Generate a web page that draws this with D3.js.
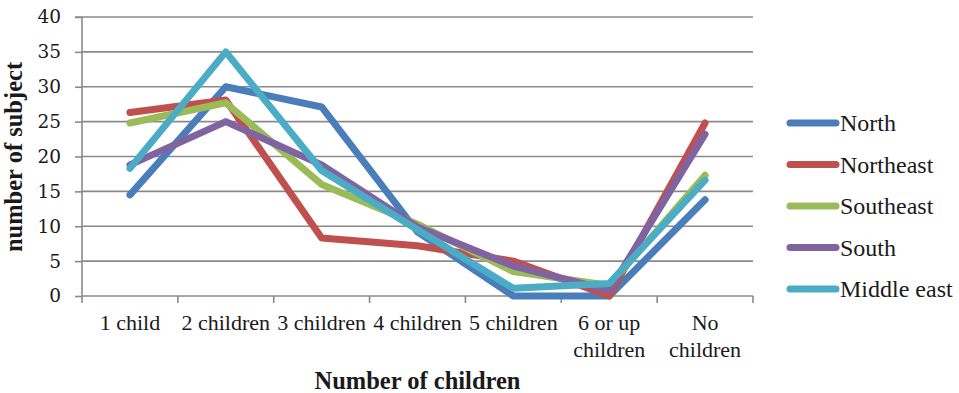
<!DOCTYPE html>
<html>
<head>
<meta charset="utf-8">
<script src="https://cdn.jsdelivr.net/npm/d3@7/dist/d3.min.js"></script>
<style>
  html, body { margin: 0; padding: 0; background: #ffffff; }
  svg { display: block; }
  text { fill: #1a1a1a; }
</style>
</head>
<body>
<svg id="chart" width="959" height="393"></svg>
<script>
// Categories along the x axis (label lines for each tick)
const categories = ["1 child", "2 children", "3 children", "4 children", "5 children", "6 or up children", "No children"];
const categoryLines = [["1 child"], ["2 children"], ["3 children"], ["4 children"], ["5 children"], ["6 or up", "children"], ["No", "children"]];

// Series values, one per category
const seriesNames = ["North", "Northeast", "Southeast", "South", "Middle east"];
const north      = [14.5, 30.0, 27.1, 9.2, 0.0, 0.0, 13.8];
const northeast  = [26.3, 28.1, 8.3, 7.2, 5.0, 0.0, 24.8];
const southeast  = [24.8, 27.7, 16.0, 10.3, 3.5, 1.5, 17.3];
const south      = [18.8, 25.0, 18.8, 9.9, 4.3, 0.8, 23.2];
const middleEast = [18.3, 35.0, 18.0, 9.5, 1.1, 1.8, 16.6];
const seriesValues = [north, northeast, southeast, south, middleEast];
const seriesColors = ["#4a7ebb", "#c0504d", "#9bbb59", "#8064a2", "#4bacc6"];

// Y axis ticks
const yTicks = [0, 5, 10, 15, 20, 25, 30, 35, 40];

const svg = d3.select("#chart");
const plot = { left: 82, right: 753, top: 17, bottom: 296 };

const x = d3.scaleBand().domain(categories).range([plot.left, plot.right]).padding(0);
const y = d3.scaleLinear().domain([0, 40]).range([plot.bottom, plot.top]);
const cx = c => x(c) + x.bandwidth() / 2;

const gridColor = "#8a8a8a";

// Horizontal gridlines
svg.append("g").selectAll("line")
  .data(yTicks.filter(t => t > 0))
  .join("line")
  .attr("x1", plot.left).attr("x2", plot.right)
  .attr("y1", d => y(d)).attr("y2", d => y(d))
  .attr("stroke", gridColor).attr("stroke-width", 1.6);

// Y axis
const yAxis = d3.axisLeft(y).tickValues(yTicks).tickSize(7).tickPadding(14).tickFormat(d3.format("d"));
const gy = svg.append("g").attr("transform", `translate(${plot.left},0)`).call(yAxis);
gy.select(".domain").attr("stroke", gridColor).attr("stroke-width", 1.6).attr("d", `M-7,${plot.top}H0V${plot.bottom}`);
gy.selectAll(".tick line").attr("stroke", gridColor).attr("stroke-width", 1.6);
gy.selectAll(".tick text")
  .attr("font-family", "'DejaVu Serif', serif")
  .attr("font-size", 18.5)
  .attr("fill", "#1a1a1a");

// X axis: line with ticks at category boundaries
const gx = svg.append("g");
gx.append("line")
  .attr("x1", plot.left).attr("x2", plot.right)
  .attr("y1", plot.bottom).attr("y2", plot.bottom)
  .attr("stroke", gridColor).attr("stroke-width", 1.6);
const boundaries = categories.map(c => x(c)).concat([plot.right]);
gx.selectAll("line.tick")
  .data(boundaries)
  .join("line")
  .attr("class", "tick")
  .attr("x1", d => d).attr("x2", d => d)
  .attr("y1", plot.bottom).attr("y2", plot.bottom + 7)
  .attr("stroke", gridColor).attr("stroke-width", 1.6);

// X tick labels
const labels = gx.selectAll("text.cat")
  .data(categories)
  .join("text")
  .attr("class", "cat")
  .attr("x", d => cx(d))
  .attr("y", 330)
  .attr("text-anchor", "middle")
  .attr("font-family", "'Liberation Serif', serif")
  .attr("font-size", 22);
labels.each(function(d, i) {
  d3.select(this).selectAll("tspan")
    .data(categoryLines[i])
    .join("tspan")
    .attr("x", cx(d))
    .attr("dy", (t, j) => j === 0 ? 0 : 26.5)
    .text(t => t);
});

// Series lines
const line = d3.line()
  .x((d, i) => cx(categories[i]))
  .y(d => y(d));

svg.append("g").selectAll("path")
  .data(seriesValues)
  .join("path")
  .attr("d", d => line(d))
  .attr("fill", "none")
  .attr("stroke", (d, i) => seriesColors[i])
  .attr("stroke-width", 7)
  .attr("stroke-linejoin", "round")
  .attr("stroke-linecap", "round");

// Axis titles
svg.append("text")
  .attr("x", (plot.left + plot.right) / 2)
  .attr("y", 389)
  .attr("text-anchor", "middle")
  .attr("font-family", "'Liberation Serif', serif")
  .attr("font-weight", "bold")
  .attr("font-size", 24.5)
  .text("Number of children");

svg.append("text")
  .attr("transform", "translate(22,157) rotate(-90)")
  .attr("text-anchor", "middle")
  .attr("font-family", "'Liberation Serif', serif")
  .attr("font-weight", "bold")
  .attr("font-size", 24.5)
  .text("number of subject");

// Legend
const legend = svg.append("g").selectAll("g")
  .data(seriesNames)
  .join("g")
  .attr("transform", (d, i) => `translate(0,${123 + i * 41.5})`);
legend.append("line")
  .attr("x1", 790).attr("x2", 836)
  .attr("y1", 0).attr("y2", 0)
  .attr("stroke", (d, i) => seriesColors[i])
  .attr("stroke-width", 7)
  .attr("stroke-linecap", "round");
legend.append("text")
  .attr("x", 840)
  .attr("y", 8)
  .attr("font-family", "'Liberation Serif', serif")
  .attr("font-size", 24)
  .text(d => d);
</script>
</body>
</html>
